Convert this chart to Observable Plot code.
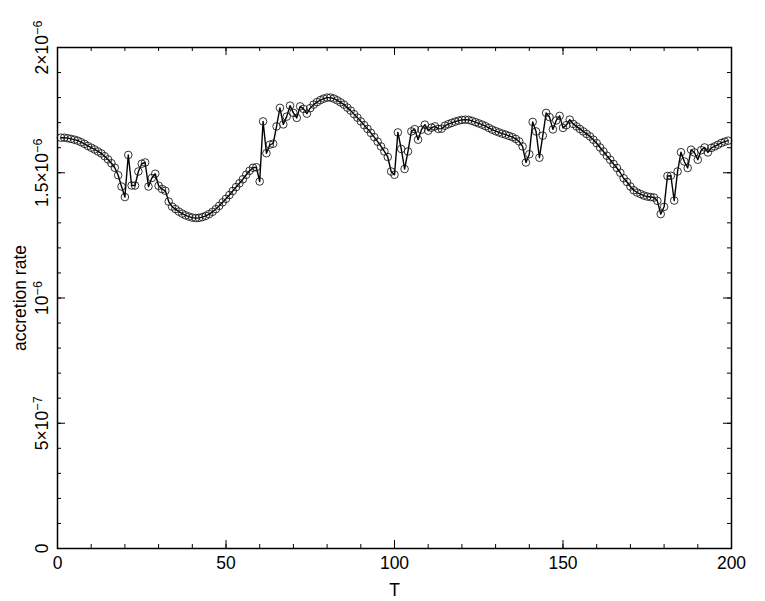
<!DOCTYPE html>
<html><head><meta charset="utf-8">
<script src="https://cdn.jsdelivr.net/npm/d3@7"></script>
<script src="https://cdn.jsdelivr.net/npm/@observablehq/plot@0.6"></script>
<style>body{margin:0;background:#fff} svg{display:block}</style>
</head><body><div id="chart"></div>
<script>
// sample times
const T = d3.range(1, 200);
// accretion rate in units of 1e-6 (T = 1..199)
const rate = [
  1.640, 1.640, 1.638, 1.635, 1.632, 1.628, 1.622, 1.615, 1.607, 1.600,
  1.593, 1.585, 1.577, 1.566, 1.553, 1.538, 1.520, 1.490, 1.445, 1.403,
  1.571, 1.449, 1.449, 1.505, 1.536, 1.541, 1.445, 1.479, 1.496, 1.448,
  1.435, 1.428, 1.385, 1.365, 1.355, 1.345, 1.337, 1.330, 1.325, 1.321,
  1.319, 1.320, 1.323, 1.328, 1.335, 1.344, 1.355, 1.368, 1.382, 1.396,
  1.411, 1.427, 1.443, 1.458, 1.474, 1.492, 1.508, 1.520, 1.522, 1.465,
  1.705, 1.578, 1.612, 1.616, 1.685, 1.759, 1.693, 1.724, 1.768, 1.739,
  1.719, 1.765, 1.755, 1.736, 1.758, 1.772, 1.782, 1.790, 1.796, 1.800,
  1.800, 1.796, 1.789, 1.781, 1.772, 1.760, 1.748, 1.734, 1.720, 1.705,
  1.690, 1.675, 1.659, 1.642, 1.624, 1.605, 1.585, 1.563, 1.505, 1.492,
  1.661, 1.595, 1.515, 1.585, 1.665, 1.674, 1.632, 1.672, 1.692, 1.668,
  1.680, 1.685, 1.675, 1.676, 1.688, 1.694, 1.699, 1.704, 1.708, 1.711,
  1.712, 1.711, 1.707, 1.702, 1.697, 1.692, 1.686, 1.679, 1.672, 1.666,
  1.661, 1.656, 1.652, 1.647, 1.642, 1.635, 1.625, 1.605, 1.541, 1.574,
  1.703, 1.665, 1.560, 1.648, 1.739, 1.722, 1.673, 1.709, 1.727, 1.679,
  1.690, 1.712, 1.695, 1.685, 1.675, 1.665, 1.655, 1.645, 1.632, 1.618,
  1.601, 1.585, 1.568, 1.552, 1.535, 1.519, 1.500, 1.478, 1.463, 1.445,
  1.430, 1.421, 1.415, 1.409, 1.405, 1.403, 1.401, 1.388, 1.335, 1.364,
  1.487, 1.488, 1.389, 1.505, 1.582, 1.545, 1.519, 1.592, 1.581, 1.552,
  1.590, 1.601, 1.581, 1.599, 1.605, 1.612, 1.619, 1.624, 1.628
];
const xMajor = [0, 50, 100, 150, 200];
const xMinor = [0,10,20,30,40,50,60,70,80,90,100,110,120,130,140,150,160,170,180,190,200];
const yMajor = [0, 5e-7, 1e-6, 1.5e-6, 2e-6];
const yMinor = [0,1e-7,2e-7,3e-7,4e-7,5e-7,6e-7,7e-7,8e-7,9e-7,1e-6,1.1e-6,1.2e-6,1.3e-6,1.4e-6,1.5e-6,1.6e-6,1.7e-6,1.8e-6,1.9e-6,2e-6];
const yBase = ["0", "5×10", "10", "1.5×10", "2×10"];
const yExp  = ["",  "−7",   "−6", "−6",     "−6"];
const xTitle = "T";
const yTitle = "accretion rate";

const data = T.map((t, i) => ({T: t, rate: rate[i] * 1e-6}));

const W = 765, H = 601, mt = 47, mb = 53, ml = 57, mr = 34;
const ih = H - mt - mb, iw = W - ml - mr;
const font = "'Liberation Sans', Arial, Helvetica, sans-serif";
const fs = 17.5;

const plot = Plot.plot({
  width: W, height: H,
  marginTop: mt, marginBottom: mb, marginLeft: ml, marginRight: mr,
  style: {fontFamily: font, background: "white", color: "black", fontSize: fs + "px"},
  x: {domain: [0, 200], axis: null},
  y: {domain: [0, 2e-6], axis: null},
  marks: [
    Plot.line(data, {x: "T", y: "rate", stroke: "black", strokeWidth: 1.4}),
    Plot.dot(data, {x: "T", y: "rate", r: 3.8, stroke: "#111", strokeWidth: 0.85, fill: "none"}),
    // inward ticks, bottom & top
    Plot.tickX(xMinor, {x: d => d, insetTop: ih - 4, stroke: "black"}),
    Plot.tickX(xMajor, {x: d => d, insetTop: ih - 8, stroke: "black"}),
    Plot.tickX(xMinor, {x: d => d, insetBottom: ih - 4, stroke: "black"}),
    Plot.tickX(xMajor, {x: d => d, insetBottom: ih - 8, stroke: "black"}),
    // inward ticks, left & right
    Plot.tickY(yMinor, {y: d => d, insetRight: iw - 4, stroke: "black"}),
    Plot.tickY(yMajor, {y: d => d, insetRight: iw - 8, stroke: "black"}),
    Plot.tickY(yMinor, {y: d => d, insetLeft: iw - 4, stroke: "black"}),
    Plot.tickY(yMajor, {y: d => d, insetLeft: iw - 8, stroke: "black"}),
    Plot.frame({stroke: "black", strokeWidth: 1.5}),
    // tick labels
    Plot.text(xMajor, {x: d => d, frameAnchor: "bottom", dy: 15, lineAnchor: "middle", textAnchor: "middle", fontSize: fs, text: d => String(d)}),
    Plot.text(yMajor, {y: d => d, frameAnchor: "left", dx: -15, rotate: -90, lineAnchor: "middle", textAnchor: "middle", fontSize: fs, text: (d, i) => yBase[i]}),
    // axis titles
    Plot.text([xTitle], {frameAnchor: "bottom", dy: 42, lineAnchor: "middle", textAnchor: "middle", fontSize: fs}),
    Plot.text([yTitle], {frameAnchor: "left", dx: -37, rotate: -90, lineAnchor: "middle", textAnchor: "middle", fontSize: fs})
  ]
});

// superscript exponents on the y tick labels
d3.select(plot).selectAll("text").each(function() {
  const i = yBase.indexOf(this.textContent);
  if (i > 0 && yExp[i] && this.getAttribute("transform") && /rotate/.test(this.getAttribute("transform"))) {
    d3.select(this).append("tspan").attr("dy", "-0.5em").attr("font-size", "72%").text(yExp[i]);
  }
});

document.getElementById("chart").appendChild(plot);
</script>
</body></html>
